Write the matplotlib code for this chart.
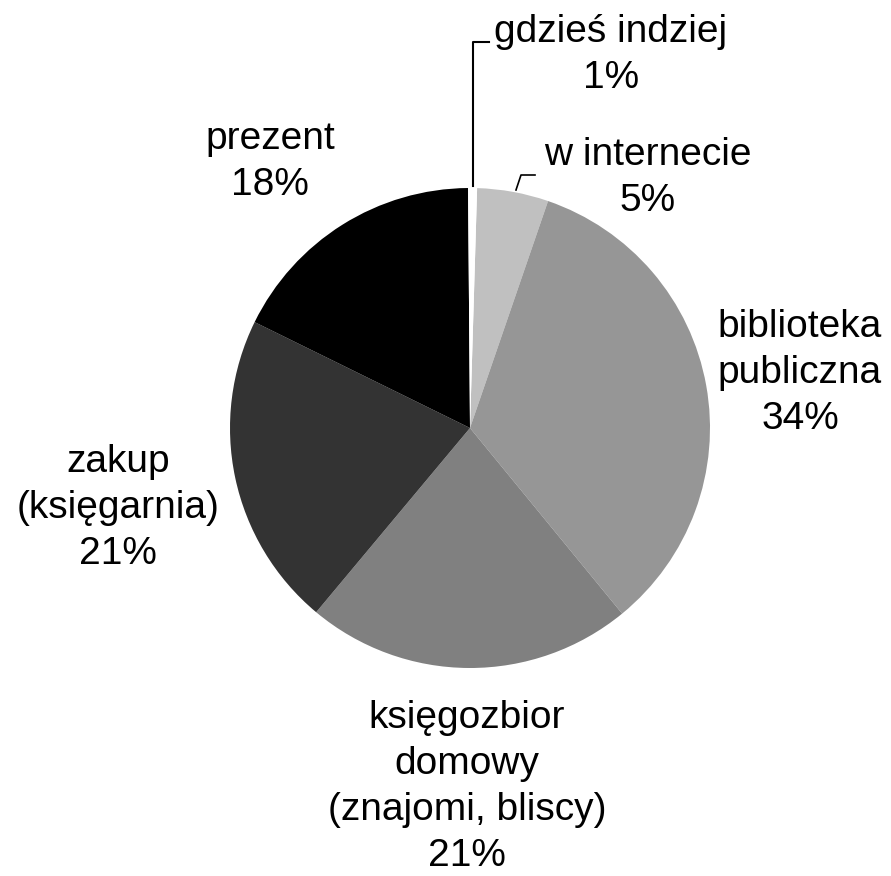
import matplotlib
matplotlib.use("Agg")
import matplotlib.pyplot as plt

plt.rcParams['font.family'] = ['Liberation Sans', 'DejaVu Sans']

# slices clockwise from the top
labels = ['w internecie', 'biblioteka\npubliczna', 'księgozbior\ndomowy\n(znajomi, bliscy)',
          'zakup\n(księgarnia)', 'prezent', 'gdzieś indziej']
shares = [4.8, 33.8, 22.0, 21.2, 17.6, 0.6]
pct_labels = ['5%', '34%', '21%', '21%', '18%', '1%']
colors = ['#c0c0c0', '#969696', '#808080', '#333333', '#000000', '#ffffff']

# label block centres, in pixels relative to pie centre (x right, y up)
label_pos = [(178, 250), (330, 55), (-3, -359), (-352, -80), (-200, 266), (141, 373)]

fig = plt.figure(figsize=(8.91, 8.76), dpi=100)
ax = fig.add_axes([0, 0, 1, 1])
ax.pie(shares, colors=colors, radius=240, startangle=88.3, counterclock=False,
       wedgeprops=dict(linewidth=0))
ax.set_xlim(-470, 421)
ax.set_ylim(-448, 428)
ax.set_aspect('equal')
ax.axis('off')

for lab, pct, (x, y) in zip(labels, pct_labels, label_pos):
    ax.text(x, y, f"{lab}\n{pct}", ha='center', va='center', fontsize=28,
            linespacing=1.35, color='black')

# leader lines
ax.plot([3, 3, 19], [242, 386, 386], color='black', lw=1.5)
ax.plot([46, 51, 65], [238, 253, 253], color='black', lw=1.2)

fig.savefig('out.png', dpi=100)
